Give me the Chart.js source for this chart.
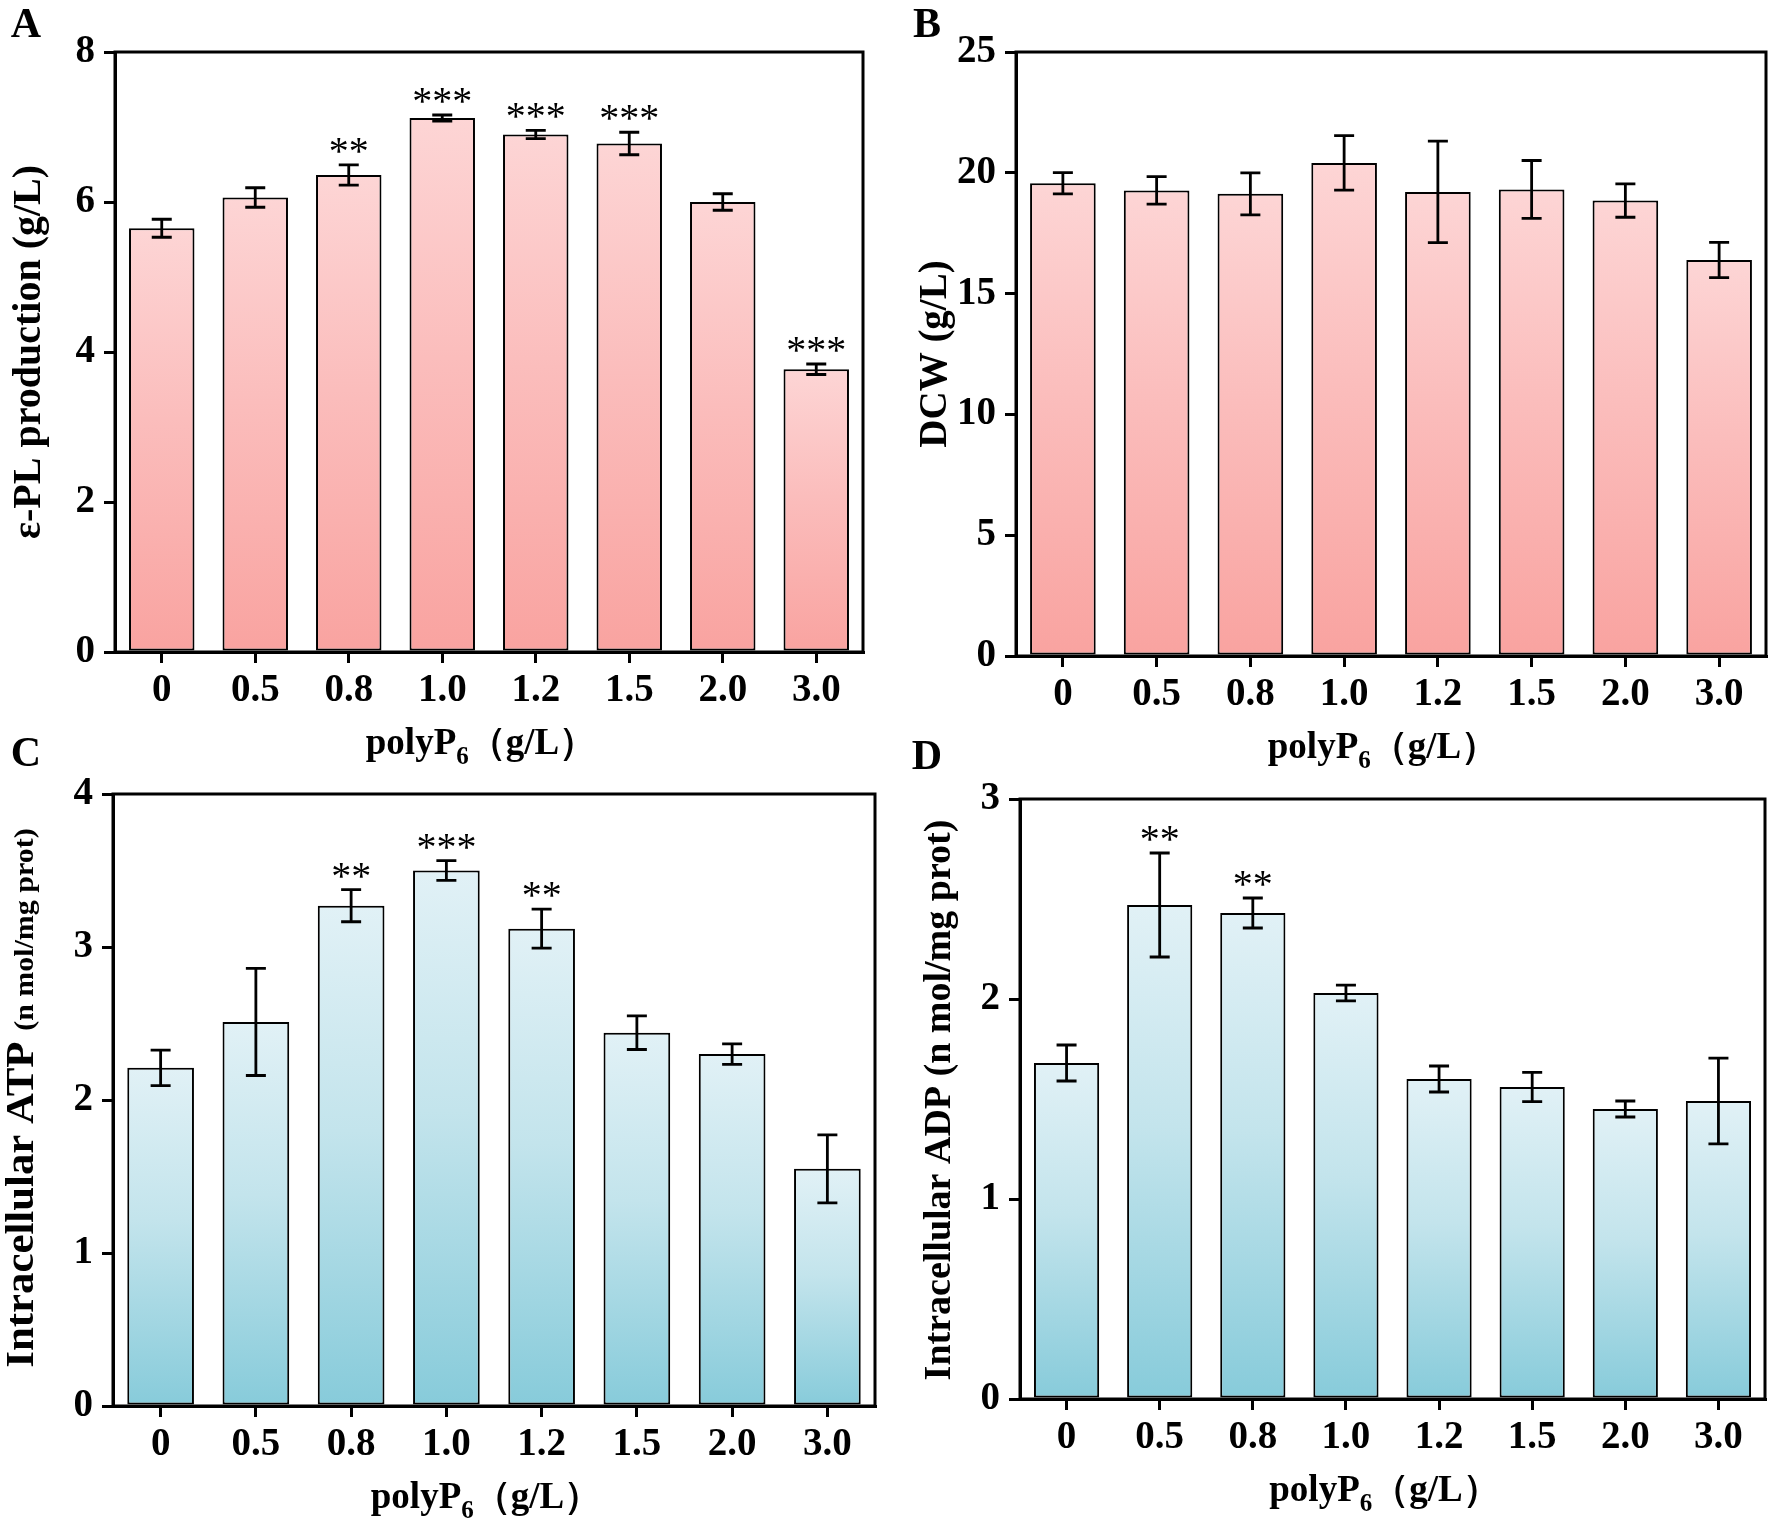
<!DOCTYPE html>
<html>
<head>
<meta charset="utf-8">
<script src="https://cdn.jsdelivr.net/npm/chart.js@4.4.0/dist/chart.umd.min.js"></script>
<style>
  body { margin: 0; background: #fff; }
  #page { position: relative; width: 1770px; height: 1522px; overflow: hidden; background: #fff; }
  canvas { position: absolute; }
  .tag { position: absolute; font: bold 42px "Liberation Serif", "Times New Roman", serif; line-height: 1; transform: translate(-50%, -50%); color: #000; }
</style>
</head>
<body>
<div id="page">
  <canvas id="chartA" width="885" height="790" style="left:0px; top:0px"></canvas>
  <canvas id="chartB" width="885" height="790" style="left:885px; top:0px"></canvas>
  <canvas id="chartC" width="885" height="762" style="left:0px; top:760px"></canvas>
  <canvas id="chartD" width="885" height="762" style="left:885px; top:760px"></canvas>
  <div class="tag" style="left:26px; top:23px">A</div>
  <div class="tag" style="left:927px; top:23px">B</div>
  <div class="tag" style="left:26px; top:752px">C</div>
  <div class="tag" style="left:927px; top:755px">D</div>
</div>
<script>
// polyP6 doses (g/L)
const doses = ["0", "0.5", "0.8", "1.0", "1.2", "1.5", "2.0", "3.0"];

// A: e-PL production (g/L)
const eplMean = [5.65, 6.06, 6.36, 7.12, 6.90, 6.78, 6.00, 3.77];
const eplErr = [0.12, 0.13, 0.135, 0.04, 0.055, 0.15, 0.11, 0.07];
const eplStars = ["", "", "**", "***", "***", "***", "", "***"];
const eplTicks = [0, 2, 4, 6, 8];

// B: DCW (g/L)
const dcwMean = [19.57, 19.27, 19.13, 20.41, 19.21, 19.31, 18.85, 16.39];
const dcwErr = [0.44, 0.57, 0.87, 1.13, 2.1, 1.2, 0.69, 0.73];
const dcwStars = ["", "", "", "", "", "", "", ""];
const dcwTicks = [0, 5, 10, 15, 20, 25];

// C: intracellular ATP (n mol/mg prot)
const atpMean = [2.21, 2.51, 3.27, 3.50, 3.12, 2.44, 2.30, 1.55];
const atpErr = [0.116, 0.35, 0.105, 0.065, 0.127, 0.11, 0.067, 0.222];
const atpStars = ["", "", "**", "***", "**", "", "", ""];
const atpTicks = [0, 1, 2, 3, 4];

// D: intracellular ADP (n mol/mg prot)
const adpMean = [1.68, 2.47, 2.43, 2.03, 1.60, 1.56, 1.45, 1.49];
const adpErr = [0.09, 0.26, 0.075, 0.039, 0.065, 0.073, 0.04, 0.214];
const adpStars = ["", "**", "**", "", "", "", "", ""];
const adpTicks = [0, 1, 2, 3];

const pinkStops = ["#fdd5d5", "#fbbdbc", "#f9a3a0"];
const blueStops = ["#e1f1f6", "#c3e4ec", "#87cbda"];

const SERIF = "'Liberation Serif', 'Times New Roman', serif";

Chart.defaults.color = "#000";
Chart.defaults.font.family = SERIF;

// per-bar vertical gradient, light at the top of the bar
function barFill(stops) {
  return function (ctx) {
    const chart = ctx.chart;
    if (!chart.chartArea || ctx.type !== "data" || !chart.scales.y) return stops[1];
    const y = chart.scales.y;
    const top = y.getPixelForValue(ctx.raw);
    const base = y.getPixelForValue(0);
    const g = chart.ctx.createLinearGradient(0, top, 0, base);
    g.addColorStop(0, stops[0]);
    g.addColorStop(0.45, stops[1]);
    g.addColorStop(1, stops[2]);
    return g;
  };
}

// error bars, stars, frame and axis titles
const extras = {
  id: "extras",
  afterDatasetsDraw(chart) {
    const o = chart.options.plugins.extras;
    const ctx = chart.ctx;
    const y = chart.scales.y;
    const area = chart.chartArea;
    const bars = chart.getDatasetMeta(0).data;

    ctx.save();
    ctx.strokeStyle = "#000";
    ctx.lineWidth = 2.8;
    bars.forEach(function (bar, i) {
      const hi = y.getPixelForValue(o.means[i] + o.errors[i]);
      const lo = y.getPixelForValue(o.means[i] - o.errors[i]);
      ctx.beginPath();
      ctx.moveTo(bar.x, hi);
      ctx.lineTo(bar.x, lo);
      ctx.moveTo(bar.x - 10, hi);
      ctx.lineTo(bar.x + 10, hi);
      ctx.moveTo(bar.x - 10, lo);
      ctx.lineTo(bar.x + 10, lo);
      ctx.stroke();
      if (o.stars[i]) {
        ctx.fillStyle = "#000";
        ctx.font = "40px " + SERIF;
        ctx.textAlign = "center";
        ctx.textBaseline = "alphabetic";
        ctx.fillText(o.stars[i], bar.x, hi - 1);
      }
    });

    // frame round the plot
    ctx.lineWidth = 3;
    ctx.strokeRect(area.left, area.top, area.right - area.left, area.bottom - area.top);

    // x title: polyP6 (g/L)
    const main = "bold 37px " + SERIF;
    const sub = "bold 25px " + SERIF;
    ctx.textAlign = "left";
    ctx.textBaseline = "alphabetic";
    ctx.font = main;
    const w1 = ctx.measureText("polyP").width;
    const w3 = ctx.measureText("（g/L）").width;
    ctx.font = sub;
    const w2 = ctx.measureText("6").width;
    let x0 = (area.left + area.right) / 2 - 8 - (w1 + w2 + w3) / 2;
    const base = area.bottom + 102;
    ctx.font = main;
    ctx.fillText("polyP", x0, base);
    ctx.font = sub;
    ctx.fillText("6", x0 + w1, base + 10);
    ctx.font = main;
    ctx.fillText("（g/L）", x0 + w1 + w2, base);

    // y title, possibly in two sizes, stretched along its length
    ctx.translate(o.yTitleX, o.yTitleY);
    ctx.rotate(-Math.PI / 2);
    ctx.scale(o.yStretch, 1);
    let total = 0;
    o.yTitle.forEach(function (p) {
      ctx.font = "bold " + p.size + "px " + SERIF;
      total += ctx.measureText(p.text).width;
    });
    let tx = -total / 2;
    const big = o.yTitle[0].size;
    o.yTitle.forEach(function (p) {
      ctx.font = "bold " + p.size + "px " + SERIF;
      ctx.fillText(p.text, tx, big * 0.34);
      tx += ctx.measureText(p.text).width;
    });
    ctx.restore();
  }
};

function makePanel(id, p) {
  const canvas = document.getElementById(id);
  const tickFont = { family: SERIF, size: 39, weight: "bold" };
  return new Chart(canvas, {
    type: "bar",
    data: {
      labels: doses,
      datasets: [
        {
          data: p.means,
          backgroundColor: barFill(p.stops),
          borderColor: "#000",
          borderWidth: 2,
          borderSkipped: false,
          barPercentage: 0.7,
          categoryPercentage: 1.0
        }
      ]
    },
    options: {
      responsive: false,
      devicePixelRatio: 1,
      animation: false,
      layout: { padding: { left: 0, top: p.padTop, right: p.padRight, bottom: 0 } },
      plugins: {
        legend: { display: false },
        tooltip: { enabled: false },
        extras: {
          means: p.means,
          errors: p.errors,
          stars: p.stars,
          yTitle: p.yTitle,
          yTitleX: p.yTitleX,
          yTitleY: p.yTitleY,
          yStretch: p.yStretch
        }
      },
      scales: {
        x: {
          offset: true,
          grid: { offset: false, drawOnChartArea: false, drawTicks: true, tickLength: 11, lineWidth: 3, color: "#000" },
          border: { display: true, color: "#000", width: 3 },
          ticks: { font: tickFont, color: "#000", padding: 5, maxRotation: 0 },
          afterFit: function (scale) { scale.height = p.xHeight; }
        },
        y: {
          min: p.ticks[0],
          max: p.ticks[p.ticks.length - 1],
          afterBuildTicks: function (scale) {
            scale.ticks = p.ticks.map(function (v) { return { value: v }; });
          },
          grid: { drawOnChartArea: false, drawTicks: true, tickLength: 11, lineWidth: 3, color: "#000" },
          border: { display: true, color: "#000", width: 3 },
          ticks: { font: tickFont, color: "#000", padding: 9 },
          afterFit: function (scale) { scale.width = p.yWidth; }
        }
      }
    },
    plugins: [extras]
  });
}

makePanel("chartA", {
  means: eplMean, errors: eplErr, stars: eplStars, ticks: eplTicks, stops: pinkStops,
  padTop: 52, padRight: 22, yWidth: 115, xHeight: 138,
  yTitle: [{ text: "ε-PL production (g/L)", size: 40 }], yTitleX: 26, yTitleY: 352, yStretch: 1.0
});

makePanel("chartB", {
  means: dcwMean, errors: dcwErr, stars: dcwStars, ticks: dcwTicks, stops: pinkStops,
  padTop: 52, padRight: 4, yWidth: 131, xHeight: 134,
  yTitle: [{ text: "DCW (g/L)", size: 39 }], yTitleX: 48, yTitleY: 354, yStretch: 1.0
});

makePanel("chartC", {
  means: atpMean, errors: atpErr, stars: atpStars, ticks: atpTicks, stops: blueStops,
  padTop: 34, padRight: 10, yWidth: 113, xHeight: 116,
  yTitle: [{ text: "Intracellular ATP ", size: 40 }, { text: "(n mol/mg prot)", size: 28 }], yTitleX: 19, yTitleY: 338, yStretch: 1.07
});

makePanel("chartD", {
  means: adpMean, errors: adpErr, stars: adpStars, ticks: adpTicks, stops: blueStops,
  padTop: 39, padRight: 5, yWidth: 135, xHeight: 123,
  yTitle: [{ text: "Intracellular ADP (n mol/mg prot)", size: 38 }], yTitleX: 52, yTitleY: 340, yStretch: 1.0
});
</script>
</body>
</html>
